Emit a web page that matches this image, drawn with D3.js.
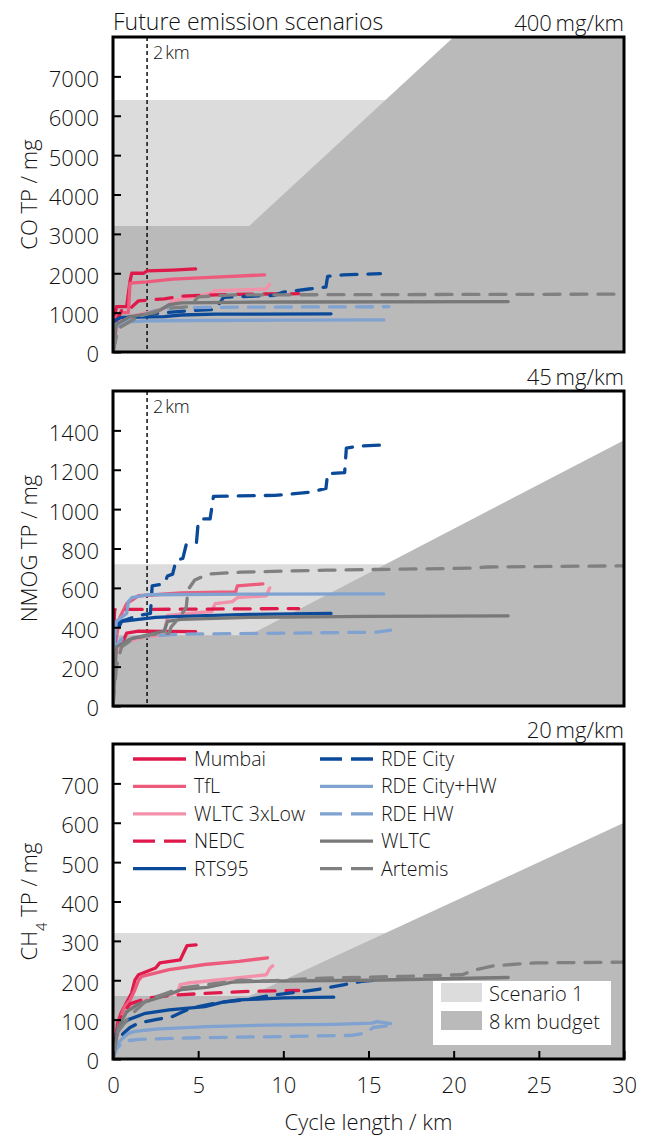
<!DOCTYPE html>
<html>
<head>
<meta charset="utf-8">
<script src="https://cdn.jsdelivr.net/npm/d3@7"></script>
<style>
  body { margin: 0; background: #fff; }
  text { font-family: "Open Sans", sans-serif; font-weight: 300; fill: #111; }
</style>
</head>
<body>
<div id="chart"></div>
<script>
// cycles, in legend order
const cycles = ["Mumbai", "TfL", "WLTC 3xLow", "NEDC", "RTS95",
  "RDE City", "RDE City+HW", "RDE HW", "WLTC", "Artemis"];

// per panel: label, budget (mg/km), 8 km budget and scenario 1 level (mg)
const panelNames = ["CO", "NMOG", "CH4"];
const budgetLabels = ["400\u2009mg/km", "45\u2009mg/km", "20\u2009mg/km"];
const budgetPerKm = [400, 45, 20];
const budget8km = [3200, 360, 160];
const scenario1 = [6400, 720, 320];
const yMax = [8000, 1600, 800];
const yTicks = [
  [0, 1000, 2000, 3000, 4000, 5000, 6000, 7000],
  [0, 200, 400, 600, 800, 1000, 1200, 1400],
  [0, 100, 200, 300, 400, 500, 600, 700]
];
const xTicks = [0, 5, 10, 15, 20, 25, 30];

// cumulative tailpipe emissions, [km, mg], one list per cycle
const coData = [
  [[0,0],[0.1,900],[0.2,1150],[0.8,1150],[1.0,1800],[1.1,2000],[1.8,2000],[2.0,2060],[3.5,2080],[4.85,2110]],
  [[0,0],[0.2,900],[0.5,1000],[0.9,1000],[1.0,1750],[2,1780],[3.5,1850],[6,1900],[8.9,1960]],
  [[0,0],[0.3,800],[1,900],[2,1000],[3,1100],[3.5,1300],[5.8,1500],[6,1560],[9.0,1600],[9.2,1720]],
  [[0,0],[0.1,700],[0.5,1050],[1,1100],[1.5,1300],[3,1350],[4,1420],[6,1450],[8,1470],[10.9,1480]],
  [[0,0],[0.1,800],[0.5,880],[3,900],[4,940],[6,960],[12.8,970]],
  [[0,0],[0.3,700],[1,900],[3,1000],[4.8,1060],[6,1080],[6.5,1390],[9.5,1440],[10,1520],[11.5,1600],[12.5,1650],[12.6,1920],[13.5,1960],[15.7,1990]],
  [[0,0],[0.1,700],[0.5,760],[2,790],[5,800],[10,810],[15.9,815]],
  [[0,0],[0.1,600],[0.5,750],[1.5,900],[2.5,1050],[3,1120],[8,1140],[16.2,1150]],
  [[0,0],[0.2,700],[1,900],[2.5,1000],[3.3,1200],[4,1250],[10,1270],[23.2,1280]],
  [[0,0],[0.3,600],[1.5,900],[3,1100],[4.5,1150],[5,1400],[7,1450],[30,1470]]
];

const nmogData = [
  [[0,0],[0.05,150],[0.1,300],[0.6,330],[0.8,370],[1.5,380],[4.85,378]],
  [[0,0],[0.1,300],[0.4,450],[0.8,520],[1.5,560],[2.5,565],[4,575],[7.2,580],[7.3,610],[8.8,620]],
  [[0,0],[0.1,250],[0.5,320],[1.8,350],[3.0,360],[3.2,460],[5.8,480],[6,520],[7,530],[7.3,550],[9.0,560],[9.2,600]],
  [[0,0],[0.05,400],[0.1,490],[10.9,495]],
  [[0,0],[0.05,400],[0.5,430],[1.5,440],[2.5,450],[4,455],[8,465],[12.8,470]],
  [[0,0],[0.1,350],[0.5,430],[1.5,460],[2.2,470],[2.3,610],[3.0,620],[3.2,660],[3.5,670],[3.7,740],[4.1,750],[4.3,820],[4.9,830],[5.0,930],[5.2,950],[5.7,950],[5.9,1065],[9.5,1070],[11.5,1085],[12.5,1105],[12.6,1180],[13.6,1185],[13.7,1310],[14.5,1320],[15.7,1325]],
  [[0,0],[0.05,300],[0.2,430],[0.8,470],[0.9,530],[1.1,550],[2,565],[8,568],[15.9,570]],
  [[0,0],[0.1,300],[0.5,340],[2,355],[4,365],[10,370],[15.5,375],[16.3,385]],
  [[0,0],[0.2,300],[1,340],[2,360],[3.0,380],[3.2,430],[4,440],[8,450],[15,455],[23.2,458]],
  [[0,0],[0.2,200],[0.5,300],[1,330],[2,360],[3.3,370],[3.4,400],[3.9,450],[4.3,500],[4.4,590],[4.8,640],[5.6,670],[7.5,680],[12.5,690],[21,700],[22,706],[30,712]]
];

const ch4Data = [
  [[0,0],[0.15,50],[0.27,91],[0.47,116],[0.78,142],[1.09,167],[1.29,201],[1.5,214],[2.5,231],[2.75,244],[3.95,252],[4.2,275],[4.35,288],[4.88,290]],
  [[0,0],[0.2,60],[0.4,100],[0.68,133],[1.0,150],[1.29,176],[1.5,200],[1.7,210],[3.3,227],[5.4,240],[7.4,248],[9.07,257]],
  [[0,0],[0.2,50],[0.5,100],[1.1,142],[2,150],[3.3,163],[3.8,170],[3.95,189],[4.4,193],[6,200],[9.0,214],[9.2,230],[9.38,237]],
  [[0,0],[0.2,60],[0.5,110],[1,140],[2,155],[3.5,162],[6,168],[8,172],[10.9,174]],
  [[0,0],[0.1,40],[0.3,75],[0.6,90],[0.9,100],[1.9,116],[3.3,125],[5.4,133],[6.5,145],[7.4,150],[10,155],[12.96,157]],
  [[0,0],[0.2,40],[0.6,65],[1,80],[1.5,91],[2.5,100],[3.5,108],[4.0,118],[4.6,129],[6,142],[8,152],[9.5,163],[11.1,171],[12.5,180],[13.6,189],[14.6,197],[15.7,201]],
  [[0,0],[0.2,35],[0.5,50],[0.9,65],[1.3,70],[2.5,76],[5.5,82],[9,86],[13,88],[15.2,91],[15.5,95],[16.3,90]],
  [[0,0],[0.2,25],[0.6,45],[1.5,50],[5,54],[10,57],[14,60],[14.7,65],[15.3,80],[16.2,85]],
  [[0,0],[0.3,80],[0.8,120],[1.5,140],[3,160],[4,176],[5.5,182],[7,195],[9,198],[15,200],[23.2,207]],
  [[0,0],[0.3,70],[1,110],[2,150],[3,165],[4,180],[5.5,189],[7.5,200],[9,198],[12,205],[15,208],[17,210],[20.5,214],[21.3,227],[22.4,237],[24.8,244],[30,246]]
];

const panelData = [coData, nmogData, ch4Data];

// line styles for each cycle
const lineStyle = {
  "Mumbai":      { color: "#e0194b", dashed: false },
  "TfL":         { color: "#ec5a7c", dashed: false },
  "WLTC 3xLow":  { color: "#f291a9", dashed: false },
  "NEDC":        { color: "#e0194b", dashed: true },
  "RTS95":       { color: "#0b4a99", dashed: false },
  "RDE City":    { color: "#0b4a99", dashed: true },
  "RDE City+HW": { color: "#7fa2d0", dashed: false },
  "RDE HW":      { color: "#7fa2d0", dashed: true },
  "WLTC":        { color: "#787878", dashed: false },
  "Artemis":     { color: "#808080", dashed: true }
};

const width = 646;
const height = 1138;
const left = 113;
const right = 624;
const panelTops = [37, 391, 744];
const panelH = 315;
const tickFont = "22px";

const svg = d3.select("#chart").append("svg")
  .attr("width", width)
  .attr("height", height);

const x = d3.scaleLinear().domain([0, 30]).range([0, right - left]);

panelNames.forEach((name, p) => {
  const y = d3.scaleLinear().domain([0, yMax[p]]).range([panelH, 0]);
  const g = svg.append("g").attr("transform", `translate(${left},${panelTops[p]})`);

  // clip so the budget areas stay inside the frame
  g.append("clipPath").attr("id", "clip" + p)
    .append("rect").attr("width", right - left).attr("height", panelH);
  const plot = g.append("g").attr("clip-path", `url(#clip${p})`);

  // scenario 1 (light) and 8 km budget (dark) areas
  plot.append("rect")
    .attr("x", 0).attr("y", y(scenario1[p]))
    .attr("width", right - left).attr("height", panelH - y(scenario1[p]))
    .attr("fill", "#dcdcdc");

  const budgetArea = [[0, 0], [0, budget8km[p]], [8, budget8km[p]],
    [30, budgetPerKm[p] * 30], [30, 0]];
  plot.append("path")
    .datum(budgetArea)
    .attr("fill", "#bababa")
    .attr("d", d3.line().x(d => x(d[0])).y(d => y(d[1])));

  // 2 km marker on the upper two panels
  if (p < 2) {
    plot.append("line")
      .attr("x1", x(2)).attr("x2", x(2))
      .attr("y1", 0).attr("y2", panelH)
      .attr("stroke", "#000").attr("stroke-width", 1.4)
      .attr("stroke-dasharray", "4,3");
    g.append("text")
      .attr("x", x(2) + 6).attr("y", 22)
      .style("font-size", "18px")
      .text("2\u200akm");
  }

  // emission lines
  const line = d3.line().x(d => x(d[0])).y(d => y(d[1]));
  panelData[p].forEach((series, i) => {
    const s = lineStyle[cycles[i]];
    plot.append("path")
      .datum(series)
      .attr("fill", "none")
      .attr("stroke", s.color)
      .attr("stroke-width", 3.3)
      .attr("stroke-linecap", "round")
      .attr("stroke-linejoin", "round")
      .attr("stroke-dasharray", s.dashed ? "16,11" : null)
      .attr("d", line);
  });

  // y axis with inward ticks
  const yAxis = g.append("g")
    .call(d3.axisLeft(y).tickValues(yTicks[p]).tickFormat(d3.format("d"))
      .tickSize(-8).tickPadding(14));
  yAxis.select(".domain").remove();
  yAxis.selectAll(".tick line").attr("stroke", "#000").attr("stroke-width", 2);
  yAxis.selectAll(".tick text")
    .attr("dy", "0.45em")
    .style("font-family", "'Open Sans', sans-serif")
    .style("font-weight", 300)
    .style("font-size", tickFont)
    .attr("fill", "#111");

  // x axis only on the bottom panel
  if (p === 2) {
    const xAxis = g.append("g")
      .attr("transform", `translate(0,${panelH})`)
      .call(d3.axisBottom(x).tickValues(xTicks).tickFormat(d3.format("d"))
        .tickSize(-8).tickPadding(18));
    xAxis.select(".domain").remove();
    xAxis.selectAll(".tick line").attr("stroke", "#000").attr("stroke-width", 2);
    xAxis.selectAll(".tick text")
      .style("font-family", "'Open Sans', sans-serif")
      .style("font-weight", 300)
      .style("font-size", tickFont)
      .attr("fill", "#111");
  }

  // frame
  g.append("rect")
    .attr("width", right - left).attr("height", panelH)
    .attr("fill", "none").attr("stroke", "#000").attr("stroke-width", 3);

  // budget label top right
  g.append("text")
    .attr("x", right - left).attr("y", -6)
    .attr("text-anchor", "end")
    .style("font-size", "22px")
    .text(budgetLabels[p]);

  // y axis label
  const yl = svg.append("text")
    .attr("transform", `translate(37,${panelTops[p] + panelH / 2}) rotate(-90)`)
    .attr("text-anchor", "middle")
    .style("font-size", "22px");
  if (name === "CH4") {
    yl.append("tspan").text("CH");
    yl.append("tspan").attr("baseline-shift", "sub").style("font-size", "15px").text("4");
    yl.append("tspan").text(" TP / mg");
  } else {
    yl.text(name + " TP / mg");
  }
});

// title
svg.append("text")
  .attr("x", left).attr("y", 30)
  .style("font-size", "23px")
  .text("Future emission scenarios");

// x axis label
svg.append("text")
  .attr("x", (left + right) / 2).attr("y", 1130)
  .attr("text-anchor", "middle")
  .style("font-size", "22px")
  .text("Cycle length / km");

// cycle legend in the bottom panel
const legend = svg.append("g").attr("transform", "translate(133,759)");
cycles.forEach((c, i) => {
  const s = lineStyle[c];
  const col = Math.floor(i / 5);
  const row = i % 5;
  const lg = legend.append("g").attr("transform", `translate(${col * 187},${row * 27.4})`);
  lg.append("line")
    .attr("x1", 0).attr("x2", 53)
    .attr("stroke", s.color).attr("stroke-width", 3.3)
    .attr("stroke-dasharray", s.dashed ? "22,9" : null);
  lg.append("text")
    .attr("x", 61).attr("y", 7)
    .style("font-size", "19.5px")
    .text(c);
});

// area legend
const areaLegend = svg.append("g").attr("transform", "translate(433,981)");
areaLegend.append("rect")
  .attr("width", 178).attr("height", 64)
  .attr("fill", "#fff");
[["Scenario 1", "#dcdcdc"], ["8\u2009km budget", "#bababa"]].forEach((d, i) => {
  areaLegend.append("rect")
    .attr("x", 8).attr("y", 2 + i * 28)
    .attr("width", 41).attr("height", 19)
    .attr("fill", d[1]);
  areaLegend.append("text")
    .attr("x", 56).attr("y", 20 + i * 28)
    .style("font-size", "20px")
    .text(d[0]);
});
</script>
</body>
</html>
